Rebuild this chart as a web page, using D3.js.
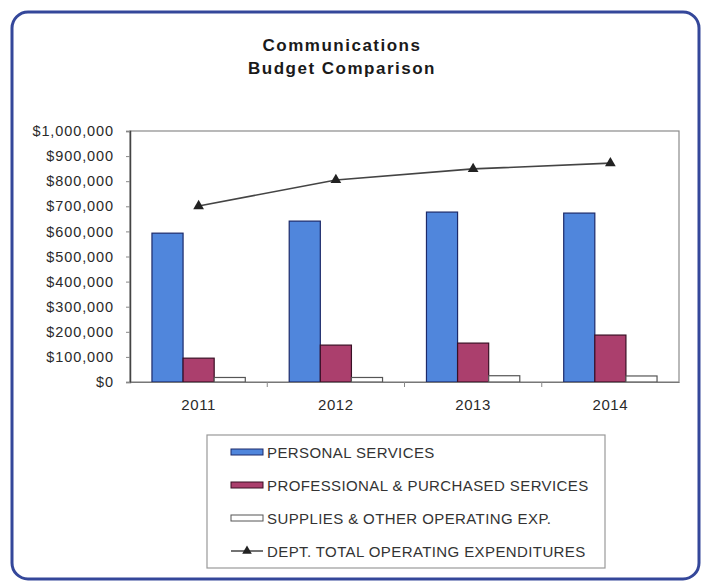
<!DOCTYPE html>
<html>
<head>
<meta charset="utf-8">
<script src="https://cdn.jsdelivr.net/npm/d3@7/dist/d3.min.js"></script>
<style>
  html, body { margin: 0; padding: 0; background: #ffffff; }
  svg { display: block; font-family: "Liberation Sans", Arial, sans-serif; }
</style>
</head>
<body>
<svg id="chart" width="703" height="583"></svg>
<script>
// Budget figures by fiscal year
const years = ["2011", "2012", "2013", "2014"];
const personalServices = [593000, 641000, 677000, 673000];
const professionalServices = [95000, 147000, 155000, 187000];
const suppliesOperating = [18000, 18000, 25000, 24000];
const totalOperating = [701000, 805000, 849000, 872000];
const yTicks = [0, 100000, 200000, 300000, 400000, 500000, 600000, 700000, 800000, 900000, 1000000];
const seriesNames = [
  "PERSONAL SERVICES",
  "PROFESSIONAL & PURCHASED SERVICES",
  "SUPPLIES & OTHER OPERATING EXP.",
  "DEPT. TOTAL OPERATING EXPENDITURES"
];

const barSeries = [
  { values: personalServices, fill: "#5086dc", stroke: "#1c2a6a" },
  { values: professionalServices, fill: "#ab3f6d", stroke: "#3a1025" },
  { values: suppliesOperating, fill: "#ffffff", stroke: "#555555" }
];

const svg = d3.select("#chart");

// Outer rounded frame
svg.append("rect")
  .attr("x", 12).attr("y", 12)
  .attr("width", 687).attr("height", 567)
  .attr("rx", 16).attr("ry", 16)
  .attr("fill", "#ffffff")
  .attr("stroke", "#34479a")
  .attr("stroke-width", 3);

// Title
const title = svg.append("text")
  .attr("text-anchor", "middle")
  .attr("font-weight", "bold")
  .attr("font-size", 17)
  .attr("letter-spacing", 1.5)
  .attr("fill", "#1a1a1a");
title.append("tspan").attr("x", 342).attr("y", 51).text("Communications");
title.append("tspan").attr("x", 342).attr("y", 74).text("Budget Comparison");

const plot = { left: 130, right: 679, top: 131, bottom: 382 };

const x = d3.scaleBand().domain(years).range([plot.left, plot.right]).paddingInner(0).paddingOuter(0);
const y = d3.scaleLinear().domain([0, 1000000]).range([plot.bottom, plot.top]);

// Plot area border
svg.append("rect")
  .attr("x", plot.left).attr("y", plot.top)
  .attr("width", plot.right - plot.left).attr("height", plot.bottom - plot.top)
  .attr("fill", "none").attr("stroke", "#8a8a8a").attr("stroke-width", 1.2);

// Bars: three series per year
const groupWidth = x.bandwidth() * 0.68;
const sub = d3.scaleBand().domain(d3.range(barSeries.length))
  .range([0, groupWidth]).padding(0);
const groupOffset = (x.bandwidth() - groupWidth) / 2;

barSeries.forEach((s, i) => {
  svg.append("g").selectAll("rect")
    .data(years.map((yr, j) => ({ yr, v: s.values[j] })))
    .join("rect")
    .attr("x", d => x(d.yr) + groupOffset + sub(i))
    .attr("y", d => y(d.v))
    .attr("width", sub.bandwidth())
    .attr("height", d => y(0) - y(d.v))
    .attr("fill", s.fill)
    .attr("stroke", s.stroke)
    .attr("stroke-width", 1.2);
});

// Y axis
const yAxis = svg.append("g")
  .attr("transform", `translate(${plot.left},0)`)
  .call(d3.axisLeft(y).tickValues(yTicks).tickSize(4).tickPadding(12)
    .tickFormat(d => "$" + d3.format(",")(d)));
yAxis.select(".domain").attr("stroke", "#444").attr("stroke-width", 1.5);
yAxis.selectAll(".tick line").attr("stroke", "#888");
yAxis.selectAll("text").attr("font-size", 14.5).attr("fill", "#2a2a2a")
  .attr("letter-spacing", 0.9)
  .attr("font-family", "\"Liberation Sans\", Arial, sans-serif");

// X axis
const xAxis = svg.append("g")
  .attr("transform", `translate(0,${plot.bottom})`)
  .call(d3.axisBottom(x).tickSize(0).tickPadding(17));
xAxis.select(".domain").attr("stroke", "#777").attr("stroke-width", 1.2);
xAxis.selectAll("text").attr("font-size", 15).attr("fill", "#2a2a2a")
  .attr("letter-spacing", 0.6)
  .attr("font-family", "\"Liberation Sans\", Arial, sans-serif");
// category separators
svg.append("g").selectAll("line")
  .data(years.slice(1))
  .join("line")
  .attr("x1", d => x(d)).attr("x2", d => x(d))
  .attr("y1", plot.bottom).attr("y2", plot.bottom + 5)
  .attr("stroke", "#888");

// Total operating expenditures line
const cx = d => x(d) + x.bandwidth() / 2;
const lineData = years.map((yr, j) => ({ yr, v: totalOperating[j] }));
svg.append("path")
  .datum(lineData)
  .attr("fill", "none")
  .attr("stroke", "#444")
  .attr("stroke-width", 1.6)
  .attr("d", d3.line().x(d => cx(d.yr)).y(d => y(d.v)));
const tri = d3.symbol().type(d3.symbolTriangle).size(50);
svg.append("g").selectAll("path")
  .data(lineData)
  .join("path")
  .attr("transform", d => `translate(${cx(d.yr)},${y(d.v)})`)
  .attr("d", tri)
  .attr("fill", "#222");

// Legend
const lg = svg.append("g");
lg.append("rect")
  .attr("x", 207).attr("y", 435).attr("width", 398).attr("height", 133)
  .attr("fill", "#ffffff").attr("stroke", "#999").attr("stroke-width", 1.2);
const legendY = [452, 485, 518, 551];
seriesNames.forEach((name, i) => {
  const yy = legendY[i];
  if (i < 3) {
    lg.append("rect")
      .attr("x", 231).attr("y", yy - 3).attr("width", 32).attr("height", 6)
      .attr("fill", barSeries[i].fill).attr("stroke", barSeries[i].stroke).attr("stroke-width", 1);
  } else {
    lg.append("line").attr("x1", 231).attr("x2", 263).attr("y1", yy).attr("y2", yy)
      .attr("stroke", "#444").attr("stroke-width", 1.5);
    lg.append("path").attr("transform", `translate(247,${yy})`)
      .attr("d", d3.symbol().type(d3.symbolTriangle).size(40)).attr("fill", "#222");
  }
  lg.append("text")
    .attr("x", 267).attr("y", yy + 5.5)
    .attr("font-size", 15).attr("fill", "#333")
    .attr("letter-spacing", 0.4)
    .text(name);
});
</script>
</body>
</html>
